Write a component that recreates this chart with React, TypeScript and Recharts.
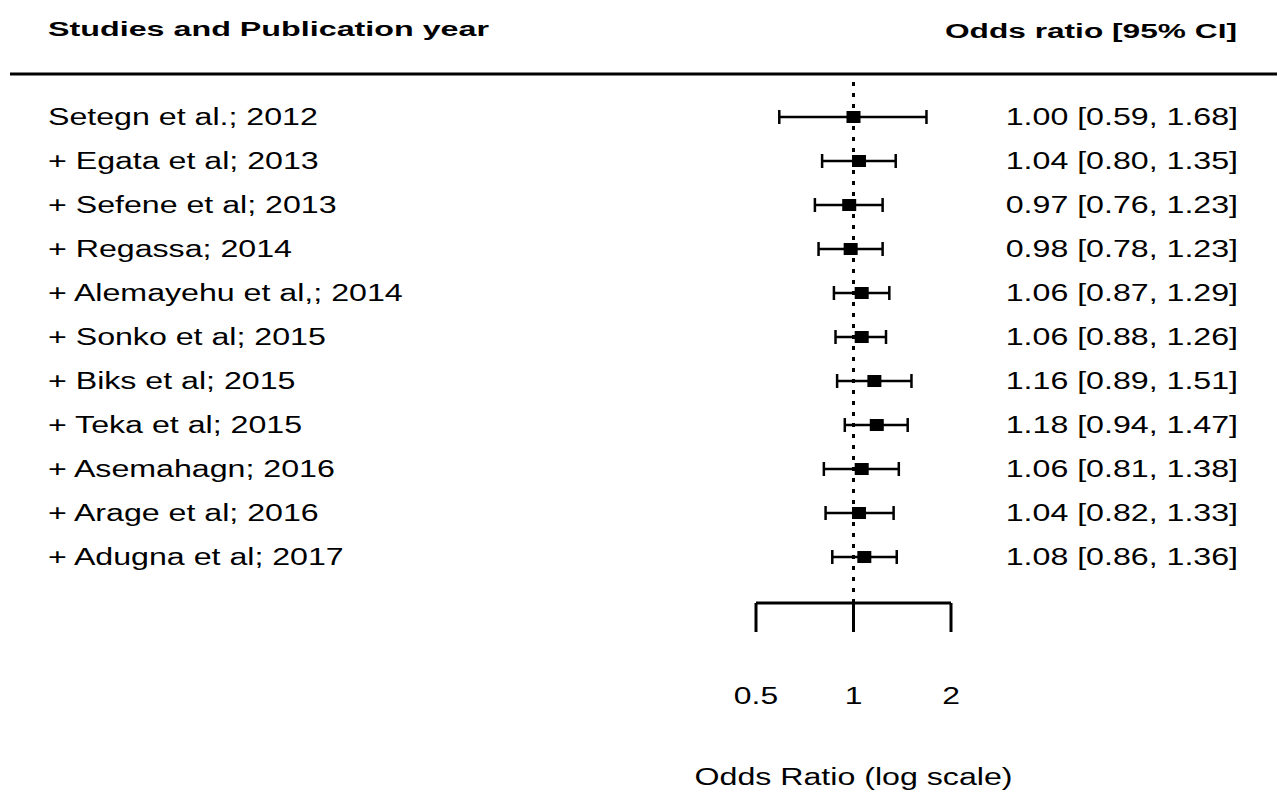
import React from 'react';
import { ComposedChart, Scatter, ErrorBar, XAxis, YAxis, ReferenceLine } from 'recharts';

const studies = [
  'Setegn et al.; 2012',
  '+ Egata et al; 2013',
  '+ Sefene et al; 2013',
  '+ Regassa; 2014',
  '+ Alemayehu et al,; 2014',
  '+ Sonko et al; 2015',
  '+ Biks et al; 2015',
  '+ Teka et al; 2015',
  '+ Asemahagn; 2016',
  '+ Arage et al; 2016',
  '+ Adugna et al; 2017',
];
const oddsRatios = [1.0, 1.04, 0.97, 0.98, 1.06, 1.06, 1.16, 1.18, 1.06, 1.04, 1.08];
const lowerCI = [0.59, 0.8, 0.76, 0.78, 0.87, 0.88, 0.89, 0.94, 0.81, 0.82, 0.86];
const upperCI = [1.68, 1.35, 1.23, 1.23, 1.29, 1.26, 1.51, 1.47, 1.38, 1.33, 1.36];
const xTicks = [0.5, 1, 2];

const rows = studies.map((study, i) => ({
  row: i,
  study,
  or: oddsRatios[i],
  err: [oddsRatios[i] - lowerCI[i], upperCI[i] - oddsRatios[i]],
  text: `${oddsRatios[i].toFixed(2)} [${lowerCI[i].toFixed(2)}, ${upperCI[i].toFixed(2)}]`,
}));

const FONT = '"Liberation Sans", Arial, Helvetica, sans-serif';
const SX = 1.38; // the reference text is stretched sideways

const Txt = ({ x, y, anchor = 'start', size = 23.3, bold = false, sx = SX, children }: any) => (
  <text
    transform={`translate(${x},${y}) scale(${sx},1)`}
    textAnchor={anchor}
    fontSize={size}
    fontWeight={bold ? 'bold' : 'normal'}
    fontFamily={FONT}
    fill="#000"
  >
    {children}
  </text>
);

const StudyTick = ({ y, payload }: any) => (
  <Txt x={48} y={y + 8}>{studies[payload.value]}</Txt>
);

const ValueTick = ({ y, payload }: any) => (
  <Txt x={1238} y={y + 8} anchor="end">{rows[payload.value]?.text}</Txt>
);

const OrTick = ({ x, y, payload }: any) => (
  <Txt x={x} y={y + 72} anchor="middle" size={24.5} sx={1.3}>{payload.value}</Txt>
);

const Box = ({ cx, cy }: any) => <rect x={cx - 7} y={cy - 6} width={14} height={12} fill="#000" />;

const Header = ({ viewBox }: any) => (
  <g>
    <Txt x={48} y={viewBox.y - 37} size={19.8} bold sx={1.63}>Studies and Publication year</Txt>
    <Txt x={1237} y={viewBox.y - 35} size={19.8} bold sx={1.6} anchor="end">Odds ratio [95% CI]</Txt>
    <line x1={10} x2={1277} y1={viewBox.y + 1} y2={viewBox.y + 1} stroke="#000" strokeWidth={3} />
  </g>
);

const AxisTitle = ({ viewBox }: any) => (
  <Txt x={viewBox.x + viewBox.width / 2} y={viewBox.y + viewBox.height - 11} anchor="middle">
    Odds Ratio (log scale)
  </Txt>
);

export default function App() {
  return (
    <div style={{ width: 1280, height: 796, background: '#fff' }}>
      <style>{'body{margin:0}'}</style>
      <ComposedChart width={1280} height={796} data={rows} margin={{ top: 73, right: 0, bottom: 0, left: 0 }}>
        <XAxis
          dataKey="or"
          type="number"
          scale="log"
          domain={[0.5, 2]}
          ticks={xTicks}
          height={193}
          tickSize={29}
          tickMargin={0}
          axisLine={{ stroke: '#000', strokeWidth: 3 }}
          tickLine={{ stroke: '#000', strokeWidth: 3 }}
          tick={<OrTick />}
          label={{ content: <AxisTitle /> }}
        />
        <YAxis
          yAxisId="left"
          dataKey="row"
          type="number"
          domain={[-1, 11.045]}
          reversed
          ticks={rows.map((r) => r.row)}
          width={756}
          axisLine={false}
          tickLine={false}
          tick={<StudyTick />}
          label={{ content: <Header /> }}
        />
        <YAxis
          yAxisId="right"
          orientation="right"
          dataKey="row"
          type="number"
          domain={[-1, 11.045]}
          reversed
          ticks={rows.map((r) => r.row)}
          width={329}
          axisLine={false}
          tickLine={false}
          tick={<ValueTick />}
        />
        <ReferenceLine
          yAxisId="left"
          x={1}
          stroke="#000"
          strokeWidth={3}
          strokeDasharray="4 7"
        />
        <Scatter yAxisId="left" dataKey="row" shape={<Box />} isAnimationActive={false}>
          <ErrorBar dataKey="err" direction="x" width={7} stroke="#000" strokeWidth={2.5} isAnimationActive={false} />
        </Scatter>
      </ComposedChart>
    </div>
  );
}
